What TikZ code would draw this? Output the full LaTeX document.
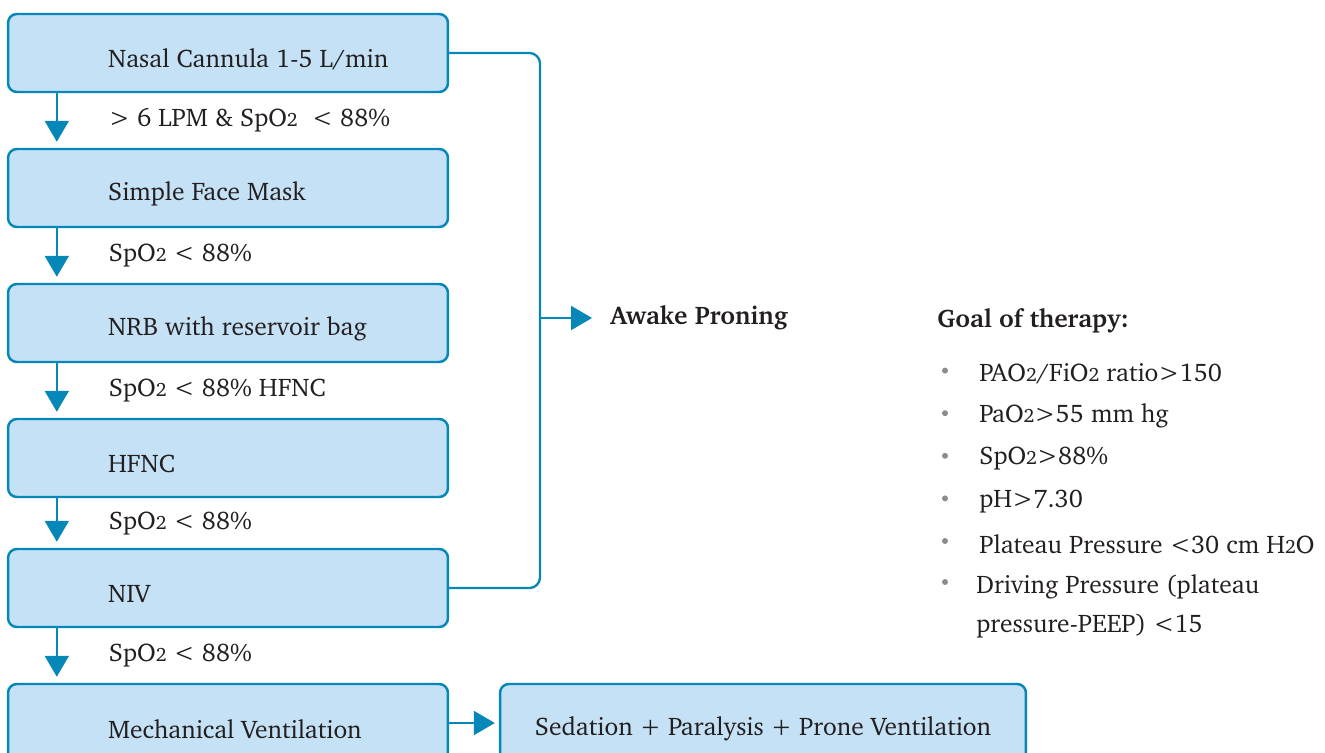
\documentclass[tikz,border=0pt]{standalone}
\usepackage[T1]{fontenc}
\usepackage{charter}
\usetikzlibrary{arrows.meta}
\definecolor{flow-line}{HTML}{0587B7}
\definecolor{flow-fill}{HTML}{C5E1F5}
\definecolor{flow-text}{HTML}{231F20}
\definecolor{dot-gray}{HTML}{8C8C8C}

\newcommand{\basefont}{\fontsize{14.5}{17}\selectfont}
\newcommand{\two}{{\fontsize{11}{10}\selectfont 2}}

\tikzset{
  box/.style={draw=flow-line, fill=flow-fill, line width=1.4pt,
    rounded corners=5pt, minimum height=1.56cm, inner sep=0pt},
  stage/.style={box, minimum width=8.8cm,
    label={[stagetext]west:#1}},
  stagetext/.style={anchor=west, xshift=2.02cm, yshift=-0.12cm, inner sep=0pt},
  flow/.style={draw=flow-line, line width=1.3pt,
    -{Triangle[length=0.42cm, width=0.48cm]}},
  link/.style={draw=flow-line, line width=1.3pt},
  cond/.style={anchor=west, inner sep=0pt},
  heading/.style={anchor=west, inner sep=0pt, font=\basefont\bfseries},
}

\begin{document}
\begin{tikzpicture}[x=0.02cm, y=-0.02cm,
    every node/.style={font=\basefont, text=flow-text}]
  \useasboundingbox (0,0) rectangle (1325,753);
  \clip (0,0) rectangle (1325,753);

  % oxygen support, one step per box
  \node[stage={Nasal Cannula 1-5 L/min}] (nasal) at (228,53) {};
  \node[stage={Simple Face Mask}] (mask) at (228,188) {};
  \node[stage={NRB with reservoir bag}] (nrb) at (228,323) {};
  \node[stage=HFNC] (hfnc) at (228,458) {};
  \node[stage=NIV] (niv) at (228,588) {};
  \node[stage={Mechanical Ventilation}] (mech) at (228,723) {};
  \node[box, minimum width=10.52cm,
    label={[yshift=-0.12cm, inner sep=0pt]center:Sedation + Paralysis + Prone Ventilation}]
    (sed) at (763,723) {};

  % escalation arrows with their triggers
  \foreach \a/\b/\c in {nasal/mask/{> 6 LPM \& SpO\two\ \ < 88\%},
      mask/nrb/{SpO\two{} < 88\%}, nrb/hfnc/{SpO\two{} < 88\% HFNC},
      hfnc/niv/{SpO\two{} < 88\%}, niv/mech/{SpO\two{} < 88\%}}
    \draw[flow, shorten >=0.12cm] ([xshift=1cm]\a.south west)
      -- ([xshift=1cm]\b.north west)
      node[cond, midway, right=1.02cm] (cond-\a) {\c};

  \draw[flow, shorten >=0.08cm] (mech.east) -- (sed.west);

  % rail on the right
  \coordinate (rail) at (540,53);
  \node[heading] (awake) at (610,318) {Awake Proning};
  \draw[link, rounded corners=6pt] (nasal.east) -- (rail) |- (niv.east);
  \draw[flow, shorten >=0.36cm] (awake.west -| rail) -- (awake.west);

  % goals
  \node[heading] (goal) at (937,321) {Goal of therapy:};
  \foreach \txt [count=\i] in {{PAO\two/FiO\two{} ratio>150},
      {PaO\two>55 mm hg}, {SpO\two>88\%}, {pH>7.30},
      {Plateau Pressure <30 cm H\two O}} {
    \fill[dot-gray] (945,328+42.6*\i) circle (1.7pt);
    \node[cond] (goal-\i) at (979,331+42.6*\i) {\txt};
  }
  \fill[dot-gray] (945,582) circle (1.7pt);
  \node[cond, align=left, font=\fontsize{14.5}{22}\selectfont] (goal-6) at (976,606)
    {Driving Pressure (plateau\\pressure-PEEP) <15};
\end{tikzpicture}
\end{document}
